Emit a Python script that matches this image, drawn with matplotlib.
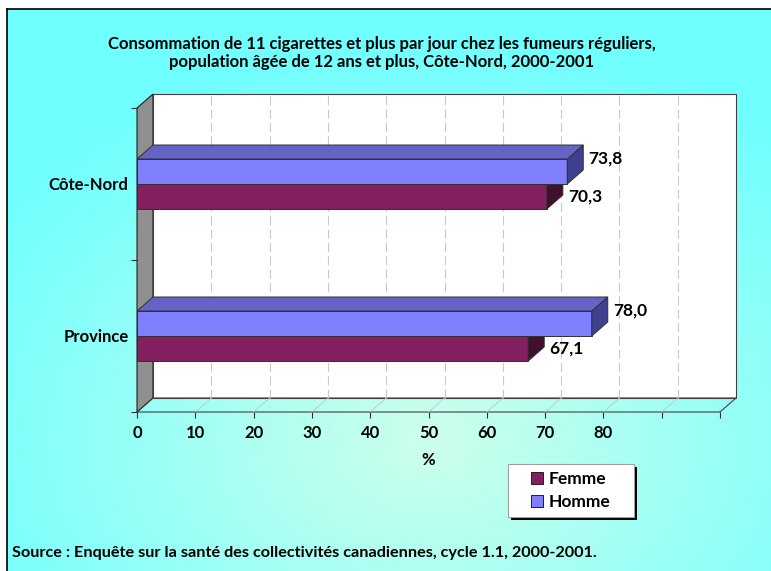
import matplotlib

matplotlib.use("Agg")
import matplotlib.pyplot as plt
import numpy as np
from matplotlib.patches import Patch, Polygon, Rectangle

regions = ["Province", "Côte-Nord"]
femme = [67.1, 70.3]
homme = [78.0, 73.8]
x_ticks = list(range(0, 101, 10))
x_labels = [str(t) for t in range(0, 81, 10)] + ["", ""]

title = ("Consommation de 11 cigarettes et plus par jour chez les fumeurs réguliers,\n"
         "population âgée de 12 ans et plus, Côte-Nord, 2000-2001")
source = "Source : Enquête sur la santé des collectivités canadiennes, cycle 1.1, 2000-2001."

FONT = ["Lato", "DejaVu Sans"]
W, H = 771, 571
fig = plt.figure(figsize=(W / 100, H / 100), dpi=100, facecolor="white")

# cyan panel with a soft radial highlight
bg = fig.add_axes([7 / W, 0, 1 - 7 / W, 1 - 9 / H])
yy, xx = np.mgrid[0:562, 0:764]
r = np.clip(np.hypot((xx - 423) / 520, (yy - 430) / 400), 0, 1)
c0 = np.array([205, 255, 235]) / 255
c1 = np.array([112, 255, 255]) / 255
bg.imshow(c0 + (c1 - c0) * r[..., None], aspect="auto")
bg.set_xticks([])
bg.set_yticks([])
for side in ("right", "bottom"):
    bg.spines[side].set_visible(False)
for side in ("top", "left"):
    bg.spines[side].set_color("black")
    bg.spines[side].set_linewidth(1.2)

ax = fig.add_axes([137 / W, (H - 412) / H, 583 / W, 304 / H])
ax.patch.set_visible(False)
ax.set_xlim(0, 100)
ax.set_ylim(0, 2)
for s in ax.spines.values():
    s.set_visible(False)

# depth of the 3D box, in data units
DX = 16 / 583 * 100
DY = 14 / 152
edge = "#303030"


def poly(pts, fc, ec=edge, lw=0.7, z=1):
    ax.add_patch(Polygon(pts, closed=True, facecolor=fc, edgecolor=ec,
                         linewidth=lw, zorder=z, clip_on=False))


# walls and floor
poly([(0, 0), (DX, DY), (DX, 2 + DY), (0, 2)], "#909090", ec="#202020", lw=0.8)
poly([(DX, DY), (100 + DX, DY), (100 + DX, 2 + DY), (DX, 2 + DY)], "white", ec="#404040", lw=0.8)
poly([(0, 0), (100, 0), (100 + DX, DY), (DX, DY)], "none", ec="#404040", lw=0.8)
for t in x_ticks[1:-1]:
    ax.plot([t + DX, t + DX], [DY, 2 + DY], color="#c8c8c8", lw=0.8,
            ls=(0, (8, 4)), zorder=1.5, clip_on=False)
    ax.plot([t, t + DX], [0, DY], color="#b8c8c8", lw=0.6, zorder=1.5, clip_on=False)

bh = 25 / 152
series = [
    ("Femme", femme, -bh, "#852060", "#6a1a4c", "#40102c"),
    ("Homme", homme, 0, "#8080ff", "#6464c6", "#404090"),
]
for i, _ in enumerate(regions):
    for name, vals, off, front, top, side in series:
        v = vals[i]
        y0 = i + 0.5 + off
        y1 = y0 + bh
        poly([(0, y0), (v, y0), (v, y1), (0, y1)], front, z=3)
        poly([(v, y0), (v + DX, y0 + DY), (v + DX, y1 + DY), (v, y1)], side, z=3)
        poly([(0, y1), (v, y1), (v + DX, y1 + DY), (DX, y1 + DY)], top, z=3)
        ty = y1 if name == "Homme" else (y0 + y1) / 2
        ax.text(v + DX + 0.9, ty, f"{v:.1f}".replace(".", ","), ha="left", va="center",
                fontsize=12.5, fontweight="bold", family=FONT, zorder=4)

ax.set_xticks(x_ticks, x_labels)
ax.tick_params(axis="x", length=4, width=0.8, color="#303030", pad=5,
               labelsize=12)
ax.set_yticks([0, 1, 2], ["", "", ""])
ax.set_yticks([0.5, 1.5], regions, minor=True)
ax.tick_params(axis="y", which="major", length=4, width=0.8, color="#303030")
ax.tick_params(axis="y", which="minor", length=0, pad=6, labelsize=12)
for lab in ax.get_xticklabels() + ax.get_yticklabels(minor=True):
    lab.set_fontweight("bold")
    lab.set_family(FONT)
ax.set_xlabel("%", fontsize=12, fontweight="bold", family=FONT, labelpad=8)

fig.text(382 / W, 1 - 53 / H, title, ha="center", va="center", fontsize=12,
         fontweight="bold", family=FONT, linespacing=1.15)
fig.text(12 / W, 1 - 553 / H, source, ha="left", va="center", fontsize=11.7,
         fontweight="bold", family=FONT)

# legend box with a hard black drop shadow
lx, ly, lw_, lh = 508, 464, 126, 53
fig.patches.append(Rectangle(((lx + 3) / W, 1 - (ly + lh + 3) / H), lw_ / W, lh / H,
                             transform=fig.transFigure, facecolor="black", edgecolor="none",
                             zorder=5))
fig.patches.append(Rectangle((lx / W, 1 - (ly + lh) / H), lw_ / W, lh / H,
                             transform=fig.transFigure, facecolor="white",
                             edgecolor="#a0a0a0", linewidth=0.8, zorder=6))
handles = [Patch(facecolor=s[3], edgecolor="#202020", linewidth=0.7, label=s[0]) for s in series]
leg = fig.legend(handles=handles, loc="center", bbox_to_anchor=((lx + lw_ / 2) / W, 1 - (ly + lh / 2) / H),
                 frameon=False, prop={"family": FONT, "weight": "bold", "size": 12.5},
                 handlelength=0.65, handleheight=0.65, handletextpad=0.35,
                 borderpad=0, labelspacing=0.4, borderaxespad=0)
leg.set_zorder(7)

fig.savefig("out.png", dpi=100, facecolor="white")
